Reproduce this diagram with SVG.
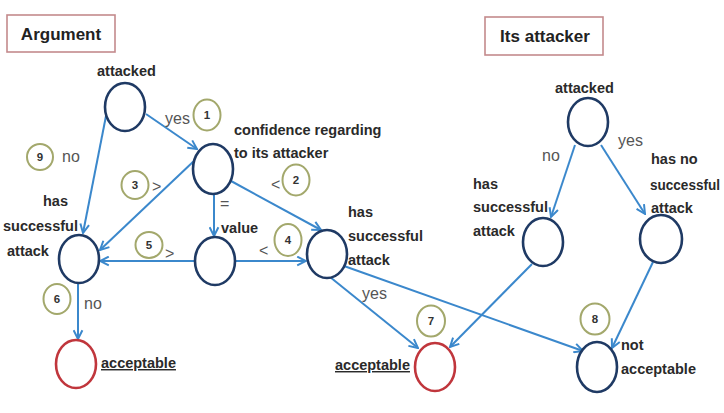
<svg xmlns="http://www.w3.org/2000/svg" width="724" height="413" viewBox="0 0 724 413">
<style>
.bg{fill:#fff}
.box{fill:#fff;stroke:#c48a8c;stroke-width:1.6}
.title{font-family:"Liberation Sans",Arial,sans-serif;font-weight:bold;font-size:17px;fill:#222;text-anchor:middle}
.node{fill:#fff;stroke:#1f3a64;stroke-width:2.6}
.red{fill:#fff;stroke:#c0363c;stroke-width:2.6}
.num{fill:#fff;stroke:#a3a86c;stroke-width:2}
.nt{font-family:"Liberation Sans",Arial,sans-serif;font-weight:bold;font-size:11.5px;fill:#333;text-anchor:middle}
.lbl{font-family:"Liberation Sans",Arial,sans-serif;font-weight:bold;font-size:14.5px;fill:#2a2a2a}
.ul{text-decoration:underline}
.cond{font-family:"Liberation Sans",Arial,sans-serif;font-size:16px;fill:#555}
.edge{fill:none;stroke:#3b88cc;stroke-width:2;marker-end:url(#arr)}
</style>
<defs>
<marker id="arr" viewBox="0 0 10 10" refX="9" refY="5" markerWidth="11" markerHeight="11" markerUnits="userSpaceOnUse" orient="auto">
<path d="M1,1 L9,5 L1,9" fill="none" stroke="#3b88cc" stroke-width="1.8"/>
</marker>
</defs>
<rect class="bg" x="0" y="0" width="724" height="413"/>

<g id="title-argument">
<rect class="box" x="7" y="15" width="108" height="37"/>
<text class="title" x="61" y="40">Argument</text>
</g>
<g id="title-attacker">
<rect class="box" x="485" y="17" width="118" height="38"/>
<text class="title" x="545" y="42">Its attacker</text>
</g>

<g id="connectors">
<path class="edge" d="M146,114 L197,149"/>
<path class="edge" d="M106,116 L83,233"/>
<path class="edge" d="M195,160 L100,250"/>
<path class="edge" d="M214,195 L214,236"/>
<path class="edge" d="M231,181 L321,230"/>
<path class="edge" d="M195,261 L100,261"/>
<path class="edge" d="M236,261 L306,261"/>
<path class="edge" d="M78,283 L78,339"/>
<path class="edge" d="M330,277 L418,348"/>
<path class="edge" d="M344,266 L583,351"/>
<path class="edge" d="M575,145 L551,217"/>
<path class="edge" d="M601,145 L645,214"/>
<path class="edge" d="M532,264 L450,347"/>
<path class="edge" d="M653,262 L612,348"/>
</g>

<g id="n-attacked">
<ellipse class="node" cx="125" cy="107" rx="20" ry="24"/>
<text class="lbl" x="97" y="76">attacked</text>
</g>
<g id="n-confidence">
<ellipse class="node" cx="213" cy="169" rx="20" ry="25"/>
<text class="lbl" x="234" y="135">confidence regarding</text>
<text class="lbl" x="234" y="158">to its attacker</text>
</g>
<g id="n-hsa-left">
<ellipse class="node" cx="79" cy="259" rx="20" ry="24"/>
<text class="lbl" x="43" y="206">has</text>
<text class="lbl" x="3" y="231">successful</text>
<text class="lbl" x="7" y="256">attack</text>
</g>
<g id="n-value">
<ellipse class="node" cx="215" cy="261" rx="20" ry="24"/>
<text class="lbl" x="221" y="233">value</text>
</g>
<g id="n-hsa-mid">
<ellipse class="node" cx="327" cy="254" rx="20" ry="24"/>
<text class="lbl" x="348" y="217">has</text>
<text class="lbl" x="348" y="241">successful</text>
<text class="lbl" x="348" y="265">attack</text>
</g>
<g id="n-acc-left">
<ellipse class="red" cx="76" cy="364" rx="20" ry="24"/>
<text class="lbl ul" x="101" y="368">acceptable</text>
</g>
<g id="n-acc-mid">
<ellipse class="red" cx="435" cy="367" rx="20" ry="24"/>
<text class="lbl ul" x="335" y="370">acceptable</text>
</g>
<g id="n-not-acc">
<ellipse class="node" cx="597" cy="367" rx="20" ry="25"/>
<text class="lbl" x="621" y="350">not</text>
<text class="lbl" x="621" y="374">acceptable</text>
</g>
<g id="n-attacked-r">
<ellipse class="node" cx="588" cy="122" rx="20" ry="24"/>
<text class="lbl" x="555" y="93">attacked</text>
</g>
<g id="n-hsa-right">
<ellipse class="node" cx="543" cy="242" rx="20" ry="24"/>
<text class="lbl" x="473" y="189">has</text>
<text class="lbl" x="473" y="212">successful</text>
<text class="lbl" x="473" y="236">attack</text>
</g>
<g id="n-hnsa-right">
<ellipse class="node" cx="661" cy="239" rx="21" ry="24"/>
<text class="lbl" x="651" y="164">has no</text>
<text class="lbl" x="650" y="190" font-size="14" textLength="70" lengthAdjust="spacingAndGlyphs">successful</text>
<text class="lbl" x="651" y="213">attack</text>
</g>

<g id="conditions">
<text class="cond" x="165" y="124">yes</text>
<text class="cond" x="271" y="190">&lt;</text>
<text class="cond" x="220" y="209">=</text>
<text class="cond" x="62" y="162">no</text>
<text class="cond" x="152" y="192">&gt;</text>
<text class="cond" x="165" y="259">&gt;</text>
<text class="cond" x="259" y="256">&lt;</text>
<text class="cond" x="84" y="309">no</text>
<text class="cond" x="362" y="299">yes</text>
<text class="cond" x="542" y="161">no</text>
<text class="cond" x="618" y="146">yes</text>
</g>

<g id="numbers">
<g id="num1"><ellipse class="num" cx="207" cy="115" rx="13.5" ry="15.5"/><text class="nt" x="207" y="119">1</text></g>
<g id="num2"><ellipse class="num" cx="296" cy="180" rx="13.5" ry="15.5"/><text class="nt" x="296" y="184">2</text></g>
<g id="num3"><ellipse class="num" cx="135" cy="185" rx="13.5" ry="14"/><text class="nt" x="135" y="189">3</text></g>
<g id="num4"><ellipse class="num" cx="288" cy="240" rx="13.5" ry="16"/><text class="nt" x="288" y="244">4</text></g>
<g id="num5"><ellipse class="num" cx="149" cy="245" rx="13.5" ry="13"/><text class="nt" x="149" y="249">5</text></g>
<g id="num6"><ellipse class="num" cx="57" cy="299" rx="13.5" ry="15"/><text class="nt" x="57" y="303">6</text></g>
<g id="num7"><ellipse class="num" cx="431" cy="321" rx="14" ry="15.5"/><text class="nt" x="431" y="325">7</text></g>
<g id="num8"><ellipse class="num" cx="595" cy="319" rx="14.5" ry="15.5"/><text class="nt" x="595" y="323">8</text></g>
<g id="num9"><ellipse class="num" cx="40" cy="157" rx="13" ry="13"/><text class="nt" x="40" y="161">9</text></g>
</g>
</svg>
